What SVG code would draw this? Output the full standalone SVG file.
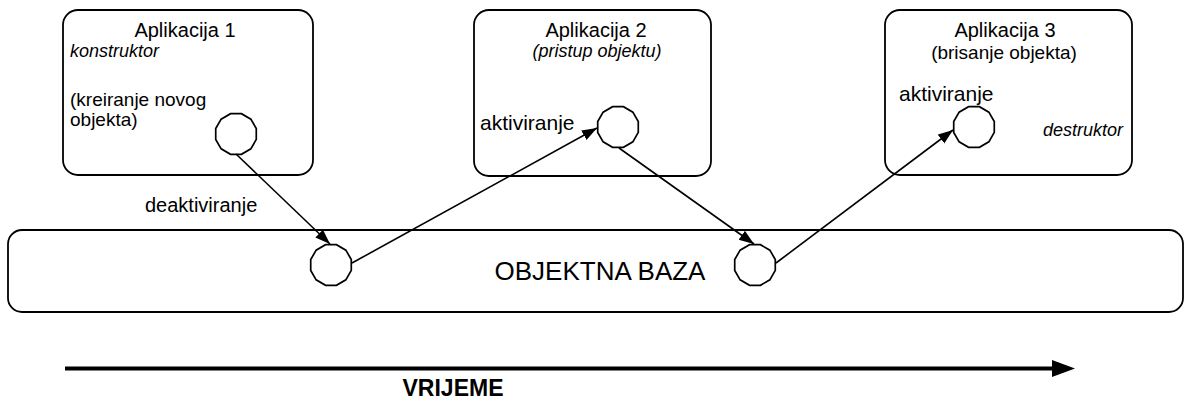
<svg xmlns="http://www.w3.org/2000/svg" width="1184" height="405" viewBox="0 0 1184 405">
<style>
.box{fill:#fff;stroke:#000;stroke-width:1.8}
.obj{fill:#fff;stroke:#000;stroke-width:1.7}
.t{font-family:"Liberation Sans",Arial,sans-serif;font-size:20px;fill:#000}
.i{font-family:"Liberation Sans",Arial,sans-serif;font-size:18px;font-style:italic;fill:#000}
.c{stroke:#000;stroke-width:1.6;fill:none;marker-end:url(#ah)}
</style>
<defs>
<marker id="ah" markerUnits="userSpaceOnUse" markerWidth="16" markerHeight="12" refX="15" refY="5.5" orient="auto">
<path d="M0,0 L15,5.5 L0,11 z" fill="#000"/>
</marker>
<polygon id="oct" class="obj" points="20.28,5.44 14.85,14.85 5.44,20.28 -5.44,20.28 -14.85,14.85 -20.28,5.44 -20.28,-5.44 -14.85,-14.85 -5.44,-20.28 5.44,-20.28 14.85,-14.85 20.28,-5.44"/>
</defs>
<rect width="1184" height="405" fill="#fff"/>
<g id="baza">
<rect class="box" x="8" y="230" width="1175" height="82" rx="14" ry="14"/>
<text class="t" x="600" y="280" text-anchor="middle" style="font-size:26px">OBJEKTNA BAZA</text>
</g>
<g id="app1">
<rect class="box" x="63" y="10" width="250" height="165" rx="15" ry="15"/>
<text class="t" x="185" y="37" text-anchor="middle">Aplikacija 1</text>
<text class="i" x="70" y="57">konstruktor</text>
<text class="t" x="70" y="106" style="font-size:19px">(kreiranje novog</text>
<text class="t" x="70" y="126" style="font-size:19px">objekta)</text>
</g>
<g id="app2">
<rect class="box" x="474" y="10" width="237" height="166" rx="15" ry="15"/>
<text class="t" x="596" y="37" text-anchor="middle">Aplikacija 2</text>
<text class="i" x="597" y="57" text-anchor="middle">(pristup objektu)</text>
<text class="t" x="480" y="130" style="font-size:21px">aktiviranje</text>
</g>
<g id="app3">
<rect class="box" x="885" y="10" width="247" height="165" rx="15" ry="15"/>
<text class="t" x="1005" y="37" text-anchor="middle">Aplikacija 3</text>
<text class="t" x="1004" y="59" text-anchor="middle" style="font-size:19px">(brisanje objekta)</text>
<text class="t" x="899" y="101" style="font-size:21px">aktiviranje</text>
<text class="i" x="1123" y="136" text-anchor="end">destruktor</text>
</g>
<g id="o1"><use href="#oct" x="236" y="134"/></g>
<g id="o2"><use href="#oct" x="618" y="127"/></g>
<g id="o3"><use href="#oct" x="974" y="127"/></g>
<g id="o4"><use href="#oct" x="331" y="265"/></g>
<g id="o5"><use href="#oct" x="755" y="265"/></g>
<g id="connectors">
<line class="c" x1="236" y1="154" x2="330" y2="244"/>
<line class="c" x1="352" y1="263" x2="597" y2="128"/>
<line class="c" x1="619" y1="148" x2="754" y2="244"/>
<line class="c" x1="776" y1="263" x2="953" y2="130"/>
<text class="t" x="145" y="212">deaktiviranje</text>
</g>
<g id="time">
<line x1="65" y1="368.5" x2="1054" y2="368.5" stroke="#000" stroke-width="4"/>
<polygon points="1052,360 1075,368.5 1052,377" fill="#000"/>
<text class="t" x="453" y="396" text-anchor="middle" style="font-size:23px;font-weight:bold">VRIJEME</text>
</g>
</svg>
